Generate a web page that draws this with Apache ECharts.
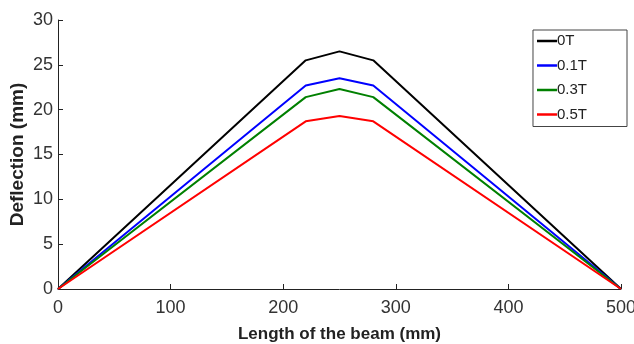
<!DOCTYPE html>
<html><head><meta charset="utf-8">
<script src="https://cdn.jsdelivr.net/npm/echarts@6/dist/echarts.min.js"></script>
<style>html,body{margin:0;padding:0;background:#fff}#c{width:634px;height:344px}</style>
</head><body><div id="c"></div>
<script>
const xs = [0, 220, 250, 280, 500];
const names = ['0T', '0.1T', '0.3T', '0.5T'];
const colors = ['#000000', '#0000ff', '#008000', '#ff0000'];
const s0 = [0, 25.5, 26.5, 25.5, 0];
const s1 = [0, 22.7, 23.5, 22.7, 0];
const s3 = [0, 21.4, 22.3, 21.4, 0];
const s5 = [0, 18.7, 19.3, 18.7, 0];
const vals = [s0, s1, s3, s5];
const chart = echarts.init(document.getElementById('c'));
const font = 'Liberation Sans, Arial, sans-serif';
chart.setOption({
  animation: false,
  grid: {left: 58, right: 13, top: 20, bottom: 55, containLabel: false, outerBoundsMode: 'none'},
  legend: {
    orient: 'vertical', right: 7, top: 30, itemGap: 8.5,
    data: names, itemWidth: 20, itemHeight: 2.5,
    icon: 'rect',
    borderColor: '#444', borderWidth: 1, padding: [3, 40, 4, 4],
    backgroundColor: '#fff',
    textStyle: {fontFamily: font, fontSize: 15, lineHeight: 16, color: '#222', padding: [0, 0, 0, -5]}
  },
  xAxis: {
    type: 'value', min: 0, max: 500, interval: 100,
    name: 'Length of the beam (mm)', nameLocation: 'middle', nameGap: 37,
    nameMoveOverlap: false,
    nameTextStyle: {fontFamily: font, fontSize: 17, fontWeight: 'bold', color: '#222'},
    axisLine: {lineStyle: {color: '#222'}},
    axisTick: {inside: true, length: 5, lineStyle: {color: '#222'}},
    axisLabel: {fontFamily: font, fontSize: 18, color: '#333', margin: 10},
    splitLine: {show: false}
  },
  yAxis: {
    type: 'value', min: 0, max: 30, interval: 5,
    name: 'Deflection (mm)', nameLocation: 'middle', nameGap: 31,
    nameMoveOverlap: false,
    nameTextStyle: {fontFamily: font, fontSize: 19, fontWeight: 'bold', color: '#222'},
    axisLine: {show: true, lineStyle: {color: '#222'}},
    axisTick: {show: true, inside: true, length: 5, lineStyle: {color: '#222'}},
    axisLabel: {fontFamily: font, fontSize: 18, color: '#333', margin: 5},
    splitLine: {show: false}
  },
  series: vals.map((v, i) => ({
    name: names[i], type: 'line', showSymbol: false, symbol: 'none',
    data: xs.map((x, j) => [x, v[j]]),
    lineStyle: {color: colors[i], width: 2}, itemStyle: {color: colors[i]}
  }))
});
</script></body></html>
